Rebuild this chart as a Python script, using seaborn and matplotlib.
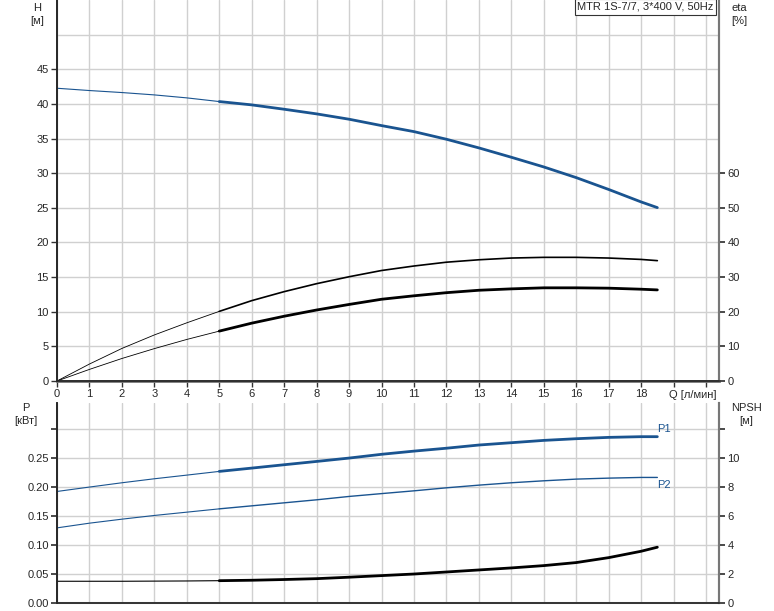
import numpy as np
import pandas as pd
import seaborn as sns
import matplotlib.pyplot as plt

# Pump curves (Q in l/min)
q_grid = [0, 1, 2, 3, 4, 5, 6, 7, 8, 9, 10, 11, 12, 13, 14, 15, 16, 17, 18, 18.5]
h_vals = [42.26, 41.93, 41.64, 41.30, 40.87, 40.34, 39.86, 39.23, 38.56, 37.79,
          36.87, 36.00, 34.90, 33.65, 32.30, 30.90, 29.36, 27.65, 25.85, 25.03]
eta_total = [0, 4.9, 9.4, 13.3, 16.8, 20.1, 23.2, 25.8, 28.1, 30.1,
             31.9, 33.2, 34.3, 35.0, 35.5, 35.7, 35.7, 35.5, 35.1, 34.75]
eta_hyd = [0, 3.35, 6.5, 9.35, 12.0, 14.4, 16.7, 18.7, 20.5, 22.1,
           23.6, 24.6, 25.5, 26.2, 26.6, 26.9, 26.9, 26.8, 26.5, 26.3]
p1_vals = [0.1924, 0.2000, 0.2074, 0.2143, 0.2206, 0.2270, 0.2327, 0.2385, 0.2442, 0.2500,
           0.2565, 0.2620, 0.2670, 0.2725, 0.2765, 0.2805, 0.2834, 0.2857, 0.2869, 0.2869]
p2_vals = [0.1296, 0.1377, 0.1446, 0.1510, 0.1567, 0.1624, 0.1676, 0.1728, 0.1780, 0.1838,
           0.1887, 0.1935, 0.1987, 0.2033, 0.2074, 0.2108, 0.2137, 0.2154, 0.2166, 0.2166]
npsh_vals = [1.50, 1.50, 1.50, 1.51, 1.52, 1.54, 1.57, 1.62, 1.68, 1.78,
             1.89, 2.00, 2.14, 2.28, 2.42, 2.58, 2.79, 3.13, 3.57, 3.85]

x_labels = [str(i) for i in range(19)] + ['', '']

sns.set_theme(style='white')
plt.rcParams['font.family'] = ['Liberation Sans', 'DejaVu Sans']
plt.rcParams['font.size'] = 8

blue = '#1a5490'
grid_c = '#d0d0d0'


def split_line(ax, vs, color, thin=0.7, thick=1.8):
    df = pd.DataFrame({'Q': q_grid, 'v': vs})
    sns.lineplot(data=df[df.Q <= 5], x='Q', y='v', ax=ax, color=color, lw=thin)
    sns.lineplot(data=df[df.Q >= 5], x='Q', y='v', ax=ax, color=color, lw=thick)


def style_axes(ax):
    ax.set_xlim(0, 20.4)
    ax.set_xticks(range(21))
    ax.grid(True, color=grid_c, lw=1)
    ax.set_axisbelow(True)
    ax.spines['top'].set_visible(False)
    ax.spines['left'].set_color('#333333')
    ax.spines['right'].set_color('#777777')
    ax.spines['right'].set_linewidth(1.5)
    ax.set_xlabel('')
    ax.set_ylabel('')


def style_twin(ax):
    ax.set_ylabel('')
    ax.set_xlabel('')
    ax.spines['top'].set_visible(False)
    ax.spines['right'].set_color('#777777')
    ax.spines['right'].set_linewidth(1.5)
    ax.tick_params(axis='y', length=4, color='#333333', pad=2, right=True, labelsize=8)
    ax.grid(False)


fig = plt.figure(figsize=(7.74, 6.11), dpi=100)
ax1 = fig.add_axes([57 / 774, 230 / 611, 662 / 774, 381 / 611])
ax2 = fig.add_axes([57 / 774, 8 / 611, 662 / 774, 200 / 611])

# top: head + efficiency
split_line(ax1, h_vals, blue, thin=0.8, thick=2.0)
ax1e = ax1.twinx()
split_line(ax1e, eta_total, 'black', thin=0.6, thick=1.2)
split_line(ax1e, eta_hyd, 'black', thin=0.6, thick=2.0)

style_axes(ax1)
ax1.set_ylim(0, 55)
ax1.set_yticks(range(0, 50, 5))
ax1.axhline(50, color=grid_c, lw=1, zorder=0)
ax1.set_xticklabels(x_labels)
ax1.spines['bottom'].set_color('#777777')
ax1.spines['bottom'].set_linewidth(2)
ax1.tick_params(axis='both', length=4, width=1, color='#333333', pad=2,
                bottom=True, left=True, labelsize=8)
ax1e.set_ylim(0, 110)
ax1e.set_yticks(range(0, 70, 10))
style_twin(ax1e)

ax1.text(19.6, -1.3, 'Q [л/мин]', ha='center', va='top', fontsize=8)
fig.text(37 / 774, 1 - 3 / 611, 'H\n[м]', ha='center', va='top', fontsize=8, linespacing=1.4)
fig.text(739 / 774, 1 - 3 / 611, 'eta\n[%]', ha='center', va='top', fontsize=8, linespacing=1.4)
ax1.text(0.992, 0.995, 'MTR 1S-7/7, 3*400 V, 50Hz', transform=ax1.transAxes,
         ha='right', va='top', fontsize=8,
         bbox=dict(facecolor='white', edgecolor='#333333', lw=0.8, pad=2))

# bottom: power + NPSH
split_line(ax2, p1_vals, blue, thin=0.8, thick=2.0)
split_line(ax2, p2_vals, blue, thin=0.8, thick=1.0)
ax2n = ax2.twinx()
split_line(ax2n, npsh_vals, 'black', thin=0.8, thick=2.0)

style_axes(ax2)
ax2.set_ylim(0, 0.345)
ax2.set_yticks(np.arange(0, 0.31, 0.05))
ax2.set_yticklabels(['0.00', '0.05', '0.10', '0.15', '0.20', '0.25', ''])
ax2.set_xticklabels([])
ax2.spines['bottom'].set_color('#aaaaaa')
ax2.spines['bottom'].set_linewidth(1.5)
ax2.tick_params(axis='y', length=4, color='#333333', pad=2, left=True, labelsize=8)
ax2.tick_params(axis='x', length=0)
ax2n.set_ylim(0, 13.8)
ax2n.set_yticks(range(0, 13, 2))
ax2n.set_yticklabels(['0', '2', '4', '6', '8', '10', ''])
style_twin(ax2n)

ax2.text(18.5, p1_vals[-1] + 0.004, 'P1', color=blue, ha='left', va='bottom', fontsize=8)
ax2.text(18.5, p2_vals[-1] - 0.004, 'P2', color=blue, ha='left', va='top', fontsize=8)
fig.text(26 / 774, 1 - 403 / 611, 'P\n[кВт]', ha='center', va='top', fontsize=8, linespacing=1.4)
fig.text(746 / 774, 1 - 403 / 611, 'NPSH\n[м]', ha='center', va='top', fontsize=8, linespacing=1.4)

fig.savefig('out.png', dpi=100)
